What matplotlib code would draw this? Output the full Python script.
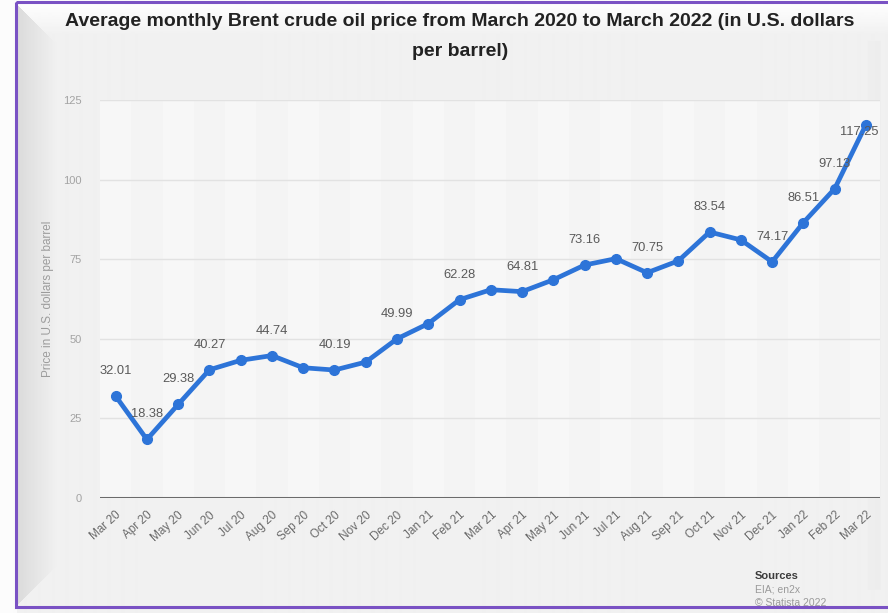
import numpy as np
import matplotlib
matplotlib.use("Agg")
import matplotlib.pyplot as plt
from matplotlib.patches import Rectangle

plt.rcParams["font.family"] = ["Liberation Sans", "DejaVu Sans"]

# Monthly Brent crude prices, USD per barrel
months = ["Mar 20", "Apr 20", "May 20", "Jun 20", "Jul 20", "Aug 20", "Sep 20",
          "Oct 20", "Nov 20", "Dec 20", "Jan 21", "Feb 21", "Mar 21", "Apr 21",
          "May 21", "Jun 21", "Jul 21", "Aug 21", "Sep 21", "Oct 21", "Nov 21",
          "Dec 21", "Jan 22", "Feb 22", "Mar 22"]
prices = [32.01, 18.38, 29.38, 40.27, 43.24, 44.74, 40.91, 40.19, 42.69, 49.99,
          54.77, 62.28, 65.41, 64.81, 68.53, 73.16, 75.17, 70.75, 74.49, 83.54,
          81.05, 74.17, 86.51, 97.13, 117.25]
labelled = [0, 1, 2, 3, 5, 7, 9, 11, 13, 15, 17, 19, 21, 22, 23, 24]
y_ticks = [0, 25, 50, 75, 100, 125]

W, H = 888, 613
fig = plt.figure(figsize=(W / 100, H / 100), dpi=100)
fig.patch.set_facecolor("#fbfbfb")

# slide-style frame with soft bevels along the left and top edges
bg = fig.add_axes([0, 0, 1, 1], zorder=-10)
bg.set_xlim(0, W)
bg.set_ylim(H, 0)
bg.axis("off")
X, Y = np.meshgrid(np.arange(W), np.arange(H))
base = 0.945
left_t = np.clip((X - 17) / 40.0, 0, 1)
left_shade = 0.86 + (base - 0.86) * left_t
top_t = np.clip((Y - 4) / 30.0, 0, 1)
top_shade = 0.995 - (0.995 - base) * top_t
in_left = (X - 17) < np.minimum(Y - 4, H - 8 - Y)
shade = np.where(in_left, left_shade, np.where(Y < 34, top_shade, base))
shade = np.where(X < 17, 0.985, shade)
# faint shadow near the right edge
shade = np.where((X > 866) & (X < 880) & (Y > 40) & (Y < 590), shade - 0.012, shade)
bg.imshow(shade, cmap="gray", vmin=0, vmax=1, extent=(0, W, H, 0),
          aspect="auto", interpolation="bilinear")
bg.add_patch(Rectangle((15.5, 2), W, 605, fill=False, edgecolor="#7a52c4", lw=2.2))

ax = fig.add_axes([100 / W, 1 - 498 / H, 780 / W, 398 / H])
ax.set_facecolor("#f4f4f4")
x = np.arange(len(months))
for i in x[::2]:
    ax.axvspan(i - 0.5, i + 0.5, color="white", alpha=0.35, lw=0, zorder=0)

ax.set_xlim(-0.5, 24.45)
ax.set_ylim(0, 125)
ax.set_yticks(y_ticks)
ax.yaxis.grid(True, color="#e2e2e2", lw=1)
ax.set_axisbelow(True)
for s in ax.spines.values():
    s.set_visible(False)
ax.axhline(0, color="#6b6b6b", lw=2.2, zorder=2)

ax.plot(x, prices, color="#2d74d8", lw=3.4, marker="o", ms=7,
        solid_capstyle="round", solid_joinstyle="round", zorder=3)

offsets = {24: (-5, -5)}
for i in labelled:
    dx, dy = offsets.get(i, (0, 18))
    ax.annotate(f"{prices[i]:.2f}", (x[i], prices[i]), xytext=(dx, dy),
                textcoords="offset points", ha="center", va="center",
                fontsize=9.3, color="#5a5a5a", zorder=4)

ax.set_xticks(x)
ax.set_xticklabels(months, rotation=42, ha="right", rotation_mode="anchor",
                   fontsize=8.5, color="#6a6a6a")
ax.tick_params(axis="x", length=0, pad=8)
ax.tick_params(axis="y", length=0, pad=13, labelsize=8, labelcolor="#a3a3a3")
ax.set_ylabel("Price in U.S. dollars per barrel", fontsize=8.5, color="#9c9c9c")
ax.yaxis.set_label_coords(-0.059, 0.5)

fig.text(460 / W, 1 - 21 / H,
         "Average monthly Brent crude oil price from March 2020 to March 2022 (in U.S. dollars",
         ha="center", va="center", fontsize=14, fontweight="bold", color="#222222")
fig.text(460 / W, 1 - 51 / H, "per barrel)", ha="center", va="center",
         fontsize=14, fontweight="bold", color="#222222")

fig.text(755 / W, 1 - 576 / H, "Sources", ha="left", va="center",
         fontsize=8, fontweight="bold", color="#3c3c3c")
fig.text(755 / W, 1 - 590 / H, "EIA; en2x", ha="left", va="center",
         fontsize=7.5, color="#9a9a9a")
fig.text(755 / W, 1 - 603 / H, "\u00a9 Statista 2022", ha="left", va="center",
         fontsize=7.5, color="#9a9a9a")

fig.savefig("out.png", dpi=100, facecolor=fig.get_facecolor())
